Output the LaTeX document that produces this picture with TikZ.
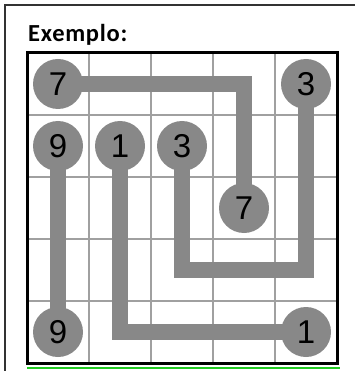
\documentclass[tikz,border=0pt]{standalone}
\usepackage{fontspec}
\newfontfamily\titlefont[LetterSpace=3]{Carlito}
\newfontfamily\digitfont{Liberation Sans}
\usepackage{xcolor}
\definecolor{trailgray}{HTML}{888888}
\definecolor{linegray}{HTML}{A0A0A0}
\definecolor{framegray}{HTML}{333333}
\definecolor{basegreen}{HTML}{22CC22}
\pgfdeclarelayer{grid}
\pgfdeclarelayer{trails}
\pgfsetlayers{grid,trails,main}

\begin{document}
\begin{tikzpicture}[x=1pt, y=-1pt,
    numcell/.style={circle, fill=trailgray, minimum size=50pt, inner sep=0pt,
      font=\digitfont\fontsize{33}{33}\selectfont},
    trail/.style={draw=trailgray, line width=16pt}]
  \useasboundingbox (0,0) rectangle (355,371);
  % outer frame (cell of the page)
  \draw[framegray, line width=1.3pt] (5,371) -- (5,5) -- (355,5);
  \node[anchor=base west, inner sep=0pt, font=\titlefont\bfseries\fontsize{24.5}{24.5}\selectfont]
    (title) at (28,42) {Exemplo:};
  % grid
  \begin{pgfonlayer}{grid}
    \foreach \i in {1,...,4} {
      \draw[linegray, line width=1.5pt] (27+62*\i,53) -- (27+62*\i,363);
      \draw[linegray, line width=1.5pt] (27,53+62*\i) -- (337,53+62*\i);
    }
  \end{pgfonlayer}
  \draw[basegreen, line width=2pt] (27,368) -- (340,368);
  \draw[black, line width=3pt] (27,53) rectangle (337,363);
  % numbers
  \node[numcell] (a7) at (58,84) {7};
  \node[numcell] (b7) at (244,208) {7};
  \node[numcell] (a3) at (306,84) {3};
  \node[numcell] (b3) at (182,146) {3};
  \node[numcell] (a9) at (58,146) {9};
  \node[numcell] (b9) at (58,332) {9};
  \node[numcell] (a1) at (120,146) {1};
  \node[numcell] (b1) at (306,332) {1};
  \coordinate (turn3) at (182,270);
  % trails
  \begin{pgfonlayer}{trails}
    \draw[trail] (a7.center) -| (b7.center);
    \draw[trail] (a3.center) |- (turn3) -- (b3.center);
    \draw[trail] (a9.center) -- (b9.center);
    \draw[trail] (a1.center) |- (b1.center);
  \end{pgfonlayer}
\end{tikzpicture}
\end{document}
